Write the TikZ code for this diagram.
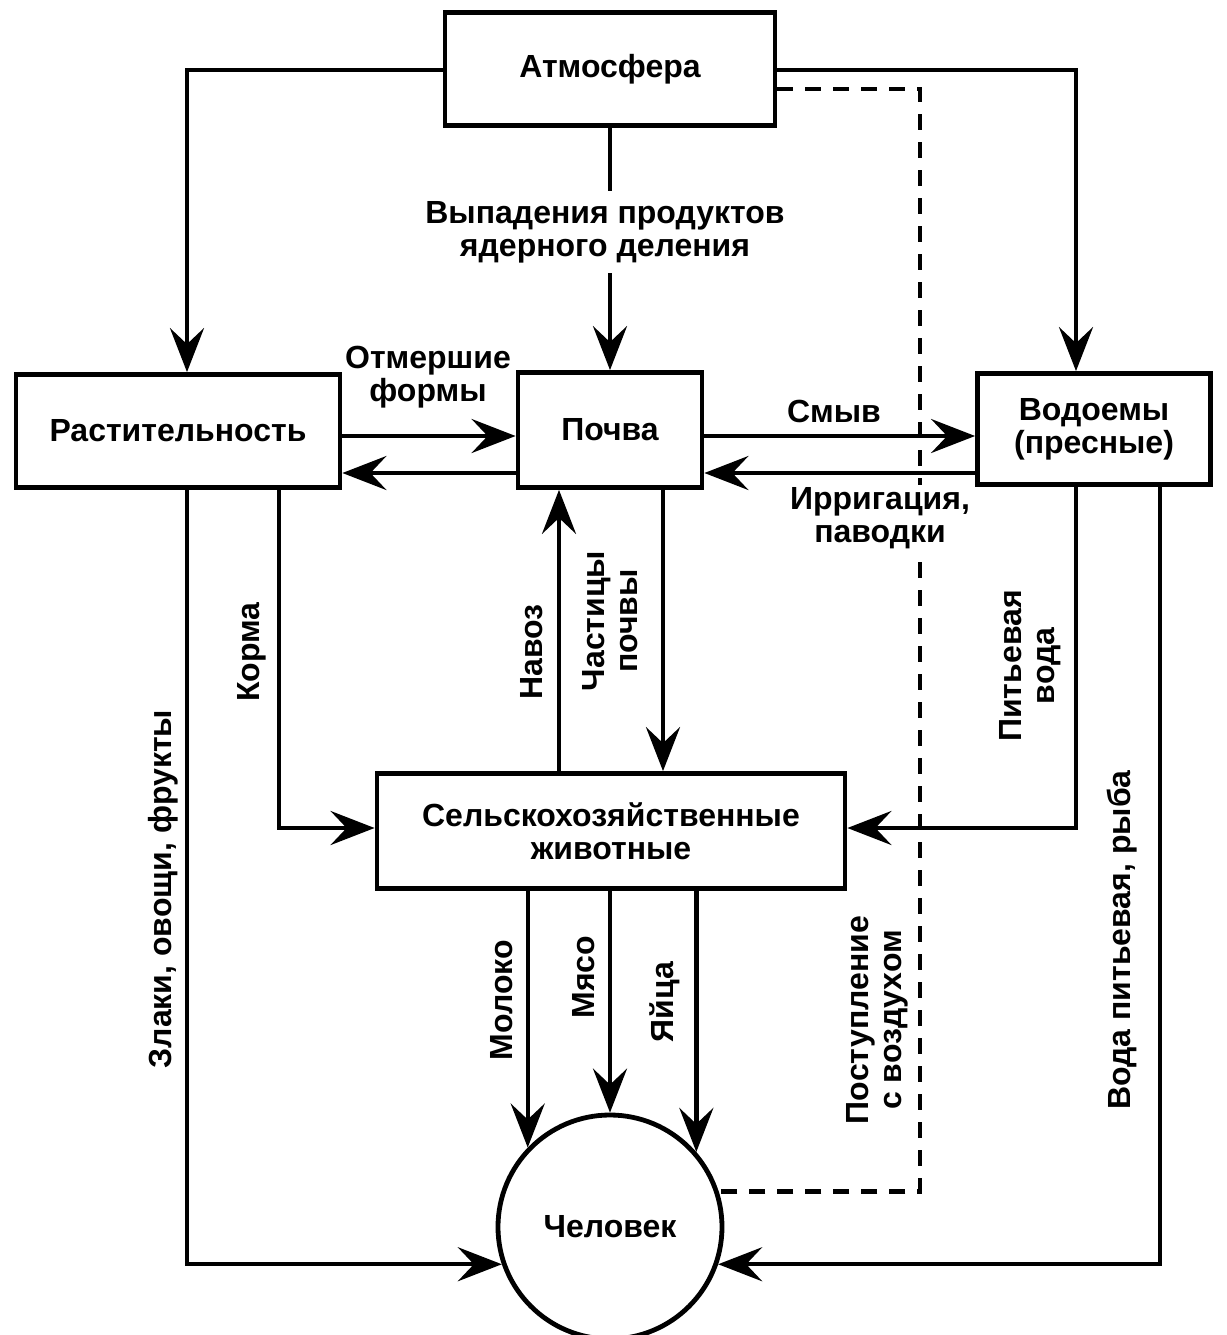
\documentclass[tikz,border=0pt]{standalone}
\usepackage{fontspec}
\setmainfont{Liberation Sans}
\usetikzlibrary{arrows.meta,calc}
\begin{document}
\begin{tikzpicture}[x=0.5pt,y=-0.5pt,
  txt/.style={font=\fontsize{16}{16.5}\selectfont\bfseries, align=center, inner sep=1pt},
  box/.style={txt, draw, line width=2.4pt, inner sep=0pt},
  conn/.style={line width=2.2pt},
  arr/.style={conn, -{Stealth[length=22pt, width=17pt, inset=8pt]}},
  dsh/.style={line width=2.2pt, dash pattern=on 8pt off 6pt},
  vlab/.style={txt, rotate=90}
]
\useasboundingbox (0,0) rectangle (1227,1335);
\fill[white] (0,0) rectangle (1227,1335);

% nodes
\node[box, minimum width=165pt, minimum height=56.5pt] (atm) at (610,69) {Атмосфера};
\node[box, minimum width=162pt, minimum height=56.5pt] (rast) at (178,431) {Растительность};
\node[box, minimum width=92pt, minimum height=57.5pt] (pochva) at (610,430) {Почва};
\node[box, minimum width=116.5pt, minimum height=55.5pt] (vod) at (1094,429) {Водоемы\\(пресные)};
\node[box, minimum width=234pt, minimum height=57.5pt] (selh) at (611,831) {Сельскохозяйственные\\животные};
\node[box, circle, minimum size=112pt] (chel) at (610,1227) {Человек};

% helper coordinates
\coordinate (xA) at (187,0);
\coordinate (xK) at (279,0);
\coordinate (xN) at (559,0);
\coordinate (xC) at (663,0);
\coordinate (xD) at (920,0);
\coordinate (xP) at (1076,0);
\coordinate (xV) at (1160,0);
\coordinate (yA) at (0,70);
\coordinate (yD) at (0,89);
\coordinate (yT) at (0,436);
\coordinate (yB) at (0,473);
\coordinate (yF) at (0,828);

% labels
\node[txt, inner sep=5pt] (lfall) at (605,232) {Выпадения продуктов\\ядерного деления};
\node[txt] (lotm) at (428,377) {Отмершие\\формы};
\node[txt] (lsmyv) at (834,411) {Смыв};
\node[vlab] (lzlaki) at (163,889) {Злаки, овощи, фрукты};
\node[vlab] (lkorma) at (252,652) {Корма};
\node[vlab] (lnavoz) at (532,652) {Навоз};
\node[vlab] (lchast) at (610,621) {Частицы\\почвы};
\node[vlab] (lpit) at (1030,666) {Питьевая\\вода};
\node[vlab] (lpost) at (877,1020) {Поступление\\с воздухом};
\node[vlab] (lvoda) at (1122,940) {Вода питьевая, рыба};
\node[vlab] (lmol) at (502,1000) {Молоко};
\node[vlab] (lmyaso) at (584,977) {Мясо};
\node[vlab] (lyai) at (665,1002) {Яйца};

% connectors
\draw[arr] (atm.west |- yA) -| (rast.north -| xA);
\draw[arr] (atm.east |- yA) -| (vod.north -| xP);
\draw[dsh] (atm.east |- yD) -| (xD |- chel.18) -- (chel.18);
\draw[conn] (atm.south) -- (lfall.north -| atm.south);
\draw[arr] (lfall.south -| pochva.north) -- (pochva.north);
\draw[arr] (rast.east |- yT) -- (pochva.west |- yT);
\draw[arr] (pochva.west |- yB) -- (rast.east |- yB);
\draw[arr] (pochva.east |- yT) -- (vod.west |- yT);
\draw[arr] (vod.west |- yB) -- (pochva.east |- yB);
\draw[arr] (rast.south -| xK) |- (selh.west |- yF);
\draw[arr] (rast.south -| xA) |- (chel.199);
\draw[arr] (selh.north -| xN) -- (pochva.south -| xN);
\draw[arr] (pochva.south -| xC) -- (selh.north -| xC);
\draw[arr] (vod.south -| xP) |- (selh.east |- yF);
\draw[arr] (vod.south -| xV) |- (chel.341);
\draw[arr] (selh.south -| chel.136) -- (chel.136);
\draw[arr] (selh.south -| chel.north) -- (chel.north);
\draw[arr] (selh.south -| chel.41) -- (chel.41);

% label that interrupts the dashed line
\node[txt, fill=white] (lirr) at (880,518) {Ирригация,\\паводки};
\end{tikzpicture}
\end{document}
